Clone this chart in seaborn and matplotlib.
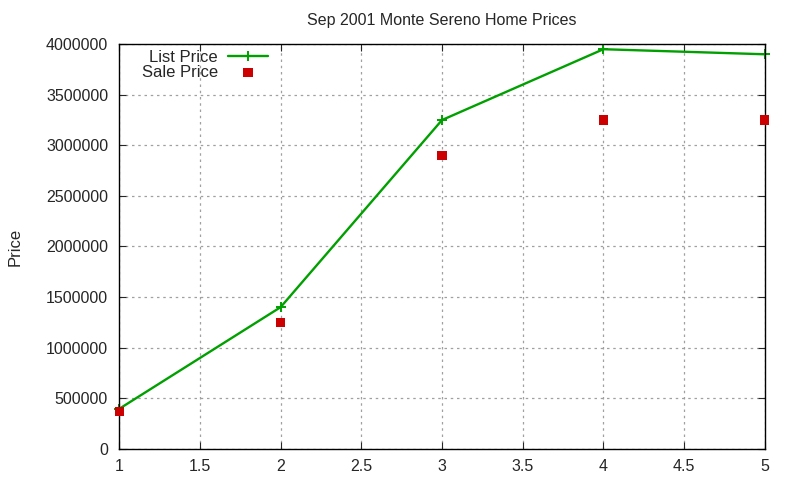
import pandas as pd
import matplotlib
matplotlib.use("Agg")
import matplotlib.pyplot as plt
import seaborn as sns

# data
month = [1, 2, 3, 4, 5]
list_price = [395000, 1400000, 3250000, 3950000, 3900000]
sale_price = [368000, 1250000, 2900000, 3250000, 3250000]

df = pd.DataFrame({"x": month, "list": list_price, "sale": sale_price})

sns.set_style("ticks")
plt.rcParams["font.family"] = ["Liberation Sans", "DejaVu Sans"]
plt.rcParams["font.size"] = 11

fig = plt.figure(figsize=(8, 4.8), dpi=100)
ax = fig.add_axes([0.149, 0.065, 0.807, 0.843])

green = "#00a000"
sns.lineplot(data=df, x="x", y="list", ax=ax, color=green, lw=1.7,
             marker="+", markersize=7, markeredgewidth=1.4,
             markeredgecolor=green, markerfacecolor=green, label="List Price",
             clip_on=False)
sns.scatterplot(data=df, x="x", y="sale", ax=ax, color="#cc0000", marker="s",
                s=45, edgecolor="none", label="Sale Price", zorder=3,
                clip_on=False)

ax.set_xlim(1, 5)
ax.set_ylim(0, 4000000)
ax.set_xticks([1, 1.5, 2, 2.5, 3, 3.5, 4, 4.5, 5])
ax.set_xticklabels(["1", "1.5", "2", "2.5", "3", "3.5", "4", "4.5", "5"])
ax.set_yticks(range(0, 4000001, 500000))
ax.set_yticklabels([str(v) for v in range(0, 4000001, 500000)])
ax.grid(True, color="#a0a0a0", linestyle=(0, (2, 3)), lw=0.9)
ax.tick_params(direction="in", top=True, right=True, length=5, labelsize=11.5)
ax.tick_params(axis="x", pad=7)
ax.tick_params(axis="y", pad=8)
for s in ax.spines.values():
    s.set_color("black")
    s.set_linewidth(1)
    s.set_visible(True)
ax.set_xlabel("")
ax.set_ylabel("Price", fontsize=12)
ax.set_title("Sep 2001 Monte Sereno Home Prices", fontsize=11.5, pad=14)

ax.legend(loc="upper left", bbox_to_anchor=(0.022, 1.007), frameon=False,
          markerfirst=False, fontsize=12, handlelength=2.4,
          labelspacing=0.0, borderaxespad=0.1, handletextpad=0.6)
ax.yaxis.set_label_coords(-0.15, 0.5)

fig.savefig("out.png", dpi=100)
